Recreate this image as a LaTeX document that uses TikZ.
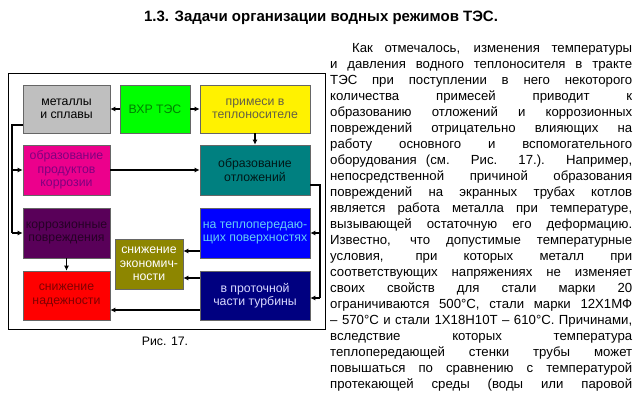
\documentclass[tikz,border=0pt]{standalone}
\usepackage{fontspec}
\setmainfont{Liberation Sans}
\usetikzlibrary{arrows.meta}
\begin{document}
\begin{tikzpicture}[x=1pt,y=-1pt,
  bx/.style={draw=black!60,line width=0.6pt,inner sep=0pt,align=center,font=\fontsize{12.3}{13.5}\selectfont},
  ar/.style={line width=1.6pt,-{Latex[length=5pt,width=5pt]}},
  ln/.style={line width=1.6pt}]
\useasboundingbox (0,0) rectangle (642,403);
\node[font=\bfseries\fontsize{15}{17}\selectfont] (title) at (321,18) {1.3. Задачи организации водных режимов ТЭС.};
\node[draw=black,line width=1pt,minimum width=317pt,minimum height=255pt,inner sep=0pt] (frame) at (166.5,201.5) {};
\node[bx,fill=black!25,minimum width=87pt,minimum height=48pt] (met) at (66.5,109) {металлы\\и сплавы};
\node[bx,fill=green!100,text=green!50!black,minimum width=70pt,minimum height=48pt] (vxr) at (155,109) {ВХР ТЭС};
\node[bx,fill=yellow,text=black!70!yellow,minimum width=110pt,minimum height=48pt] (pri) at (255,109) {примеси в\\теплоносителе};
\node[bx,fill=magenta,text=violet,minimum width=87pt,minimum height=50pt] (prk) at (66.5,170) {образование\\продуктов\\коррозии};
\node[bx,fill=teal,text=black!80!teal,minimum width=110pt,minimum height=50pt] (otl) at (255,170) {образование\\отложений};
\node[bx,fill=violet!70!black,text=black!70!violet,minimum width=87pt,minimum height=50pt] (kor) at (66.5,233) {коррозионные\\повреждения};
\node[bx,fill=blue,text=cyan!60!white,minimum width=110pt,minimum height=50pt] (tep) at (255,233) {на теплопередаю-\\щих поверхностях};
\node[bx,fill=olive,text=white,minimum width=68pt,minimum height=50pt] (eko) at (149,264) {снижение\\экономич-\\ности};
\node[bx,fill=red,text=red!50!black,minimum width=87pt,minimum height=49pt] (nad) at (66.5,295.5) {снижение\\надежности};
\node[bx,fill=blue!50!black,text=white!85!blue,minimum width=110pt,minimum height=49pt] (pro) at (255,295.5) {в проточной\\части турбины};
\node[font=\fontsize{12.3}{13}\selectfont] (fig) at (165,341) {Рис. 17.};
% connectors
\draw[ar] (vxr) -- (met);
\draw[ar] (vxr) -- (pri);
\draw[ar] (pri) -- (otl);
\draw[ar] (prk) -- (otl);
\draw[ar] (kor) -- (nad);
\draw[ln] (met.south west |- 0,125) -- (12,125) -- (12,233);
\draw[ar] (12,170) -- (prk.west);
\draw[ar] (12,233) -- (kor.west);
\draw[ln] (otl.east |- 0,185) -- (320,185) -- (320,298);
\draw[ar] (320,233) -- (tep.east);
\draw[ar] (320,298) -- (pro.east |- 0,298);
\draw[ar] (tep.west |- 0,251) -- (eko.east |- 0,251);
\draw[ar] (pro.west |- 0,278) -- (eko.east |- 0,278);
\draw[ar] (pro.west |- 0,310) -- (nad.east |- 0,310);
% text
\node[anchor=north west,inner sep=0pt] (txt) at (330,43) {\begin{minipage}{302pt}\fontsize{13.2}{16}\selectfont\setlength{\parindent}{22pt}\setlength{\parfillskip}{0pt}\sloppy
Как отмечалось, изменения температуры\linebreak
и давления водного теплоносителя в тракте\linebreak
ТЭС при поступлении в него некоторого\linebreak
количества примесей приводит к\linebreak
образованию отложений и коррозионных\linebreak
повреждений отрицательно влияющих на\linebreak
работу основного и вспомогательного\linebreak
оборудования (см. Рис. 17.). Например,\linebreak
непосредственной причиной образования\linebreak
повреждений на экранных трубах котлов\linebreak
является работа металла при температуре,\linebreak
вызывающей остаточную его деформацию.\linebreak
Известно, что допустимые температурные\linebreak
условия, при которых металл при\linebreak
соответствующих напряжениях не изменяет\linebreak
своих свойств для стали марки 20\linebreak
ограничиваются 500°С, стали марки 12Х1МФ\linebreak
– 570°С и стали 1Х18Н10Т – 610°С. Причинами,\linebreak
вследствие которых температура\linebreak
теплопередающей стенки трубы может\linebreak
повышаться по сравнению с температурой\linebreak
протекающей среды (воды или паровой\par
\end{minipage}};
\end{tikzpicture}
\end{document}
